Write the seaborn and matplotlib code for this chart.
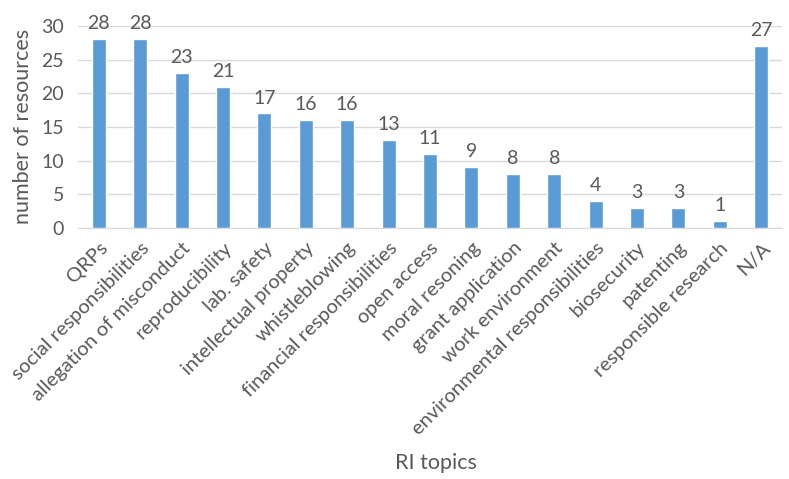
import matplotlib
matplotlib.use("Agg")
import matplotlib.pyplot as plt
import seaborn as sns
import pandas as pd

topics = ["QRPs", "social responsibilities", "allegation of misconduct",
          "reproducibility", "lab. safety", "intellectual property",
          "whistleblowing", "financial responsibilities", "open access",
          "moral resoning", "grant application", "work environment",
          "environmental responsibilities", "biosecurity", "patenting",
          "responsible research", "N/A"]
counts = [28, 28, 23, 21, 17, 16, 16, 13, 11, 9, 8, 8, 4, 3, 3, 1, 27]

df = pd.DataFrame({"topic": topics, "count": counts})

sns.set_style("white")
plt.rcParams["font.family"] = ["Lato", "DejaVu Sans"]
grey = "#595959"

fig = plt.figure(figsize=(7.89, 4.79), dpi=100)
ax = fig.add_axes([0.099, 0.524, 0.892, 0.422])

sns.barplot(data=df, x="topic", y="count", color="#5B9BD5", width=0.34,
            saturation=1, ax=ax, zorder=3)

ax.set_ylim(0, 30)
ax.set_yticks(range(0, 31, 5))
ax.grid(axis="y", color="#D9D9D9", linewidth=1, zorder=0)
for s in ["top", "right", "left"]:
    ax.spines[s].set_visible(False)
ax.spines["bottom"].set_color("#D9D9D9")

for i, v in enumerate(counts):
    ax.annotate(str(v), (i, v), xytext=(0, 5), textcoords="offset points",
                ha="center", va="bottom", fontsize=14, color=grey,
                annotation_clip=False)

ax.set_xticks(range(len(topics)))
ax.set_xticklabels(topics, rotation=45, ha="right", rotation_mode="anchor",
                   fontsize=14.5, color=grey)
ax.tick_params(axis="x", length=0, pad=8)
ax.tick_params(axis="y", length=0, labelsize=14, labelcolor=grey, pad=10)

ax.set_ylabel("number of resources", fontsize=15.5, color=grey, labelpad=6)
ax.set_xlabel("")
fig.text(0.553, 0.012, "RI topics", ha="center", va="bottom",
         fontsize=15.5, color=grey)

fig.savefig("out.png", dpi=100)
